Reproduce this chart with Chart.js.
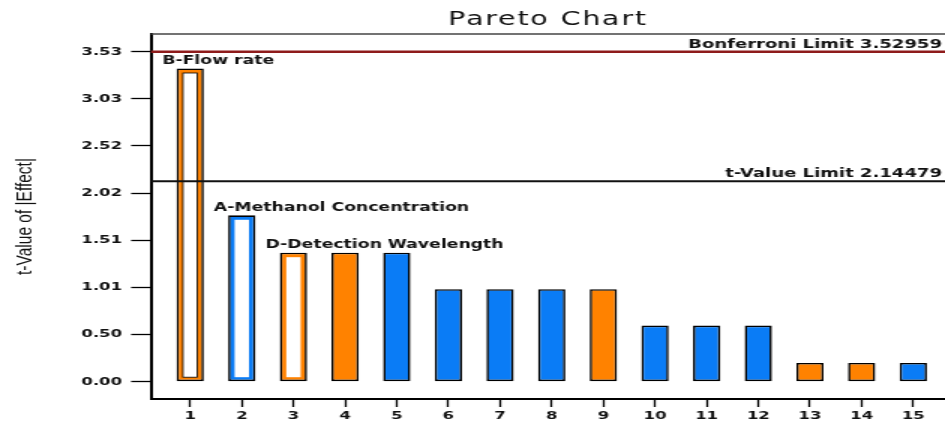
<!DOCTYPE html>
<html>
<head>
<meta charset="utf-8">
<script src="https://cdn.jsdelivr.net/npm/chart.js@4.4.1/dist/chart.umd.min.js"></script>
<style>
  html, body { margin: 0; padding: 0; background: #fff; overflow: hidden; }
  /* the plot is laid out narrow and widened horizontally */
  #wrap { width: 630px; height: 424px; transform: scaleX(1.5); transform-origin: 0 0; }
</style>
</head>
<body>
<div id="wrap"><canvas id="pareto" width="630" height="424"></canvas></div>
<script>
const runs = [1, 2, 3, 4, 5, 6, 7, 8, 9, 10, 11, 12, 13, 14, 15];
const tValues = [3.35, 1.78, 1.38, 1.38, 1.38, 0.99, 0.99, 0.99, 0.99, 0.60, 0.60, 0.60, 0.20, 0.20, 0.20];
const effectSign = ['+', '-', '+', '+', '-', '-', '-', '-', '+', '-', '-', '-', '+', '+', '-'];
const termLabels = ['B-Flow rate', 'A-Methanol Concentration', 'D-Detection Wavelength',
  '', '', '', '', '', '', '', '', '', '', '', ''];
const yTickValues = [0, 0.5042, 1.0085, 1.5127, 2.0169, 2.5211, 3.0254, 3.5296];
const yTickLabels = ['0.00', '0.50', '1.01', '1.51', '2.02', '2.52', '3.03', '3.53'];
const bonferroniLimit = 3.52959;
const tValueLimit = 2.14479;

const ORANGE = '#ff8200';
const BLUE = '#0a7cf6';
const TEXT = '#111';

// title, limit lines, hollow model terms and their names
const paretoExtras = {
  id: 'paretoExtras',
  afterDatasetsDraw(chart) {
    const {ctx, chartArea: area, scales: {y}} = chart;
    const bars = chart.getDatasetMeta(0).data;
    ctx.save();

    bars.forEach((bar, i) => {
      if (!termLabels[i]) return;
      const {x, y: top, base, width} = bar.getProps(['x', 'y', 'base', 'width'], true);
      const l = x - width / 2 + 4.3;
      const w = width - 8.6;
      ctx.fillStyle = '#fff';
      ctx.fillRect(l, top + 4.5, w, base - top - 8.5);
      if (i === 0) {
        ctx.strokeStyle = '#000';
        ctx.lineWidth = 0.8;
        ctx.strokeRect(l, top + 4.5, w, base - top - 8.5);
      }
      ctx.fillStyle = TEXT;
      ctx.font = 'bold 11.5px "DejaVu Sans"';
      ctx.textAlign = 'left';
      ctx.textBaseline = 'alphabetic';
      ctx.fillText(termLabels[i], x - width / 2 - 9.5, top - 4.5);
    });

    const drawLimit = (value, color, width, text) => {
      const py = y.getPixelForValue(value);
      ctx.strokeStyle = color;
      ctx.lineWidth = width;
      ctx.beginPath();
      ctx.moveTo(area.left, py);
      ctx.lineTo(area.right, py);
      ctx.stroke();
      ctx.fillStyle = TEXT;
      ctx.font = 'bold 12px "DejaVu Sans"';
      ctx.textAlign = 'right';
      ctx.textBaseline = 'alphabetic';
      ctx.fillText(text, area.right - 2, py - 4);
    };
    drawLimit(bonferroniLimit, '#8e1b1b', 2.5, 'Bonferroni Limit ' + bonferroniLimit);
    drawLimit(tValueLimit, '#111', 2, 't-Value Limit ' + tValueLimit);

    // frame top
    ctx.strokeStyle = '#444';
    ctx.lineWidth = 1.5;
    ctx.beginPath();
    ctx.moveTo(area.left, area.top);
    ctx.lineTo(area.right, area.top);
    ctx.stroke();

    ctx.fillStyle = TEXT;
    ctx.font = '19px "DejaVu Sans"';
    ctx.letterSpacing = '1.2px';
    ctx.textAlign = 'center';
    ctx.textBaseline = 'middle';
    ctx.fillText('Pareto Chart', (area.left + area.right) / 2, 20);
    ctx.restore();
  }
};

const tickFont = {family: 'DejaVu Sans', size: 11, weight: 'bold'};

new Chart(document.getElementById('pareto'), {
  type: 'bar',
  data: {
    datasets: [{
      data: runs.map((r, i) => ({x: r, y: tValues[i]})),
      backgroundColor: effectSign.map(s => s === '+' ? ORANGE : BLUE),
      borderColor: '#000',
      borderWidth: 1.6,
      borderSkipped: false,
      categoryPercentage: 1,
      barPercentage: 0.528,
    }]
  },
  options: {
    responsive: false,
    animation: false,
    devicePixelRatio: 1,
    layout: {padding: {top: 34, right: 0, bottom: 0, left: 0}},
    plugins: {
      legend: {display: false},
      tooltip: {enabled: false},
    },
    scales: {
      x: {
        type: 'linear',
        offset: false,
        min: 0.243,
        max: 15.614,
        afterBuildTicks: s => { s.ticks = runs.map(v => ({value: v})); },
        afterFit: s => { s.height = 25; },
        grid: {offset: false, drawOnChartArea: false, tickLength: 8, tickColor: '#000', tickWidth: 1.3},
        border: {color: '#000', width: 2},
        ticks: {color: TEXT, font: tickFont, padding: 3, maxRotation: 0, autoSkip: false},
      },
      y: {
        min: -0.185,
        max: 3.719,
        afterBuildTicks: s => { s.ticks = yTickValues.map(v => ({value: v})); },
        afterFit: s => { s.width = 100.7; },
        grid: {drawOnChartArea: false, tickLength: 13.3, tickColor: '#000', tickWidth: 1.3},
        border: {color: '#000', width: 2},
        ticks: {color: TEXT, font: tickFont, padding: 6, callback: (v, i) => yTickLabels[i]},
        title: {
          display: true,
          text: 't-Value of |Effect|',
          color: TEXT,
          font: {family: 'Liberation Sans', size: 15.5},
          padding: {top: 7, bottom: 0},
        },
      },
    },
  },
  plugins: [paretoExtras],
});
</script>
</body>
</html>
